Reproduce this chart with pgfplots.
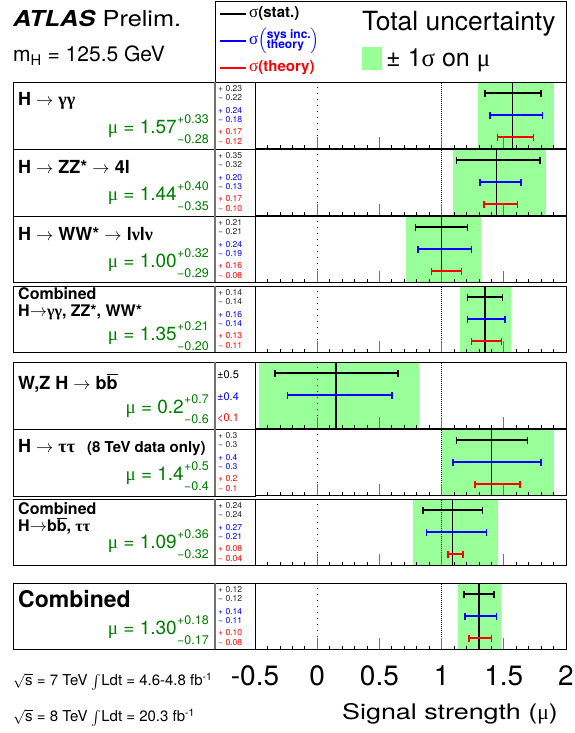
\documentclass[border=0pt]{standalone}
\usepackage{fontspec}
\setmainfont{TeX Gyre Heros}
\newfontfamily\wide[FakeStretch=1.25]{TeX Gyre Heros}
\newfontfamily\wider[FakeStretch=1.15]{TeX Gyre Heros}
\newfontfamily\grk{Liberation Serif}
\usepackage{amsmath}
\usepackage{pgfplots}
\pgfplotsset{compat=1.18}

\definecolor{band}{RGB}{153,255,153}
\definecolor{mugreen}{RGB}{0,125,0}
\definecolor{sysblue}{RGB}{0,0,255}
\definecolor{thred}{RGB}{255,0,0}
\newcommand\fs[1]{\fontsize{#1}{#1}\selectfont}

\pgfplotsset{
  panel/.style={
    anchor=north west, width=311pt, height=66.5pt, scale only axis,
    xmin=-0.5, xmax=2, ymin=0, ymax=1,
    xtick={-0.5,0,0.5,1,1.5,2}, minor x tick num=4, ytick=\empty,
    xticklabels={}, xtick pos=bottom, tick align=inside,
    major tick length=11pt, minor tick length=3pt,
    major tick style={black!55, line width=1pt},
    minor tick style={black, line width=0.7pt},
    axis line style={line width=0.9pt},
    axis on top, clip=false,
  },
  bar/.style={mark=none, line width=1.7pt, error bars/.cd, x dir=both, x explicit, error mark=|,
    error bar style={draw=#1, line width=1.7pt},
    error mark options={draw=#1, mark size=3.5pt, line width=1.5pt}},
  zero/.style={black, line width=0.9pt, dash pattern=on 1pt off 5pt},
  one/.style={black, line width=1.2pt, dash pattern=on 1pt off 1pt},
  muline/.style={black, line width=1.3pt},
}

% left box + divider
\newcommand\lbox[2]{\draw[line width=0.9pt] (13,#1) rectangle (255,#2);
  \draw[black!55, line width=1.3pt] (215,#1) -- (215,#2);}
% small number column
\newcommand\nums[7]{%
  \node[anchor=west, inner sep=0pt, font=\fs{8.5}, text=black!85] at (218,#1+6.7) {+ #2};
  \node[anchor=west, inner sep=0pt, font=\fs{8.5}, text=black!85] at (218,#1+16) {− #3};
  \node[anchor=west, inner sep=0pt, font=\fs{8.5}, text=sysblue] at (218,#1+28.7) {+ #4};
  \node[anchor=west, inner sep=0pt, font=\fs{8.5}, text=sysblue] at (218,#1+38) {− #5};
  \node[anchor=west, inner sep=0pt, font=\fs{8.5}, text=thred] at (218,#1+50) {+ #6};
  \node[anchor=west, inner sep=0pt, font=\fs{8.5}, text=thred] at (218,#1+59.7) {− #7};}
% mu = value ^sup _sub
\newcommand\muv[5]{%
  \node[anchor=base east, inner sep=0pt, font=\fs{19}, text=mugreen] at (#2,#1+52) {{\grk μ} = #3};
  \node[anchor=base east, inner sep=0pt, font=\fs{12.5}, text=mugreen] at (209,#1+42) {#4};
  \node[anchor=base east, inner sep=0pt, font=\fs{12.5}, text=mugreen] at (209,#1+62) {#5};}

\begin{document}
\begin{tikzpicture}
\path[use as bounding box] (0,0) rectangle (574pt,733pt);

% H -> gamma gamma
\begin{axis}[panel, at={(255pt,651pt)}]
\addplot[fill=band, draw=none] coordinates {(1.29,0) (1.29,1) (1.90,1) (1.90,0)} -- cycle;
\addplot[zero] coordinates {(0,0) (0,1)};
\addplot[one] coordinates {(1,0) (1,1)};
\addplot[muline] coordinates {(1.57,0) (1.57,1)};
\addplot[bar=black] coordinates {(1.57,0.83) += (0.23,0) -= (0.22,0)};
\addplot[bar=sysblue] coordinates {(1.57,0.5) += (0.24,0) -= (0.18,0)};
\addplot[bar=thred] coordinates {(1.57,0.17) += (0.17,0) -= (0.12,0)};
\end{axis}

% H -> ZZ*
\begin{axis}[panel, at={(255pt,584pt)}]
\addplot[fill=band, draw=none] coordinates {(1.09,0) (1.09,1) (1.84,1) (1.84,0)} -- cycle;
\addplot[zero] coordinates {(0,0) (0,1)};
\addplot[one] coordinates {(1,0) (1,1)};
\addplot[muline] coordinates {(1.44,0) (1.44,1)};
\addplot[bar=black] coordinates {(1.44,0.83) += (0.35,0) -= (0.32,0)};
\addplot[bar=sysblue] coordinates {(1.44,0.5) += (0.20,0) -= (0.13,0)};
\addplot[bar=thred] coordinates {(1.44,0.17) += (0.17,0) -= (0.10,0)};
\end{axis}

% H -> WW*
\begin{axis}[panel, at={(255pt,517pt)}]
\addplot[fill=band, draw=none] coordinates {(0.71,0) (0.71,1) (1.32,1) (1.32,0)} -- cycle;
\addplot[zero] coordinates {(0,0) (0,1)};
\addplot[one] coordinates {(1,0) (1,1)};
\addplot[muline] coordinates {(1.00,0) (1.00,1)};
\addplot[bar=black] coordinates {(1.00,0.83) += (0.21,0) -= (0.21,0)};
\addplot[bar=sysblue] coordinates {(1.00,0.5) += (0.24,0) -= (0.19,0)};
\addplot[bar=thred] coordinates {(1.00,0.17) += (0.16,0) -= (0.08,0)};
\end{axis}

% combined bosonic
\begin{axis}[panel, at={(255pt,447pt)}]
\addplot[fill=band, draw=none] coordinates {(1.15,0) (1.15,1) (1.56,1) (1.56,0)} -- cycle;
\addplot[zero] coordinates {(0,0) (0,1)};
\addplot[one] coordinates {(1,0) (1,1)};
\addplot[muline] coordinates {(1.35,0) (1.35,1)};
\addplot[bar=black] coordinates {(1.35,0.83) += (0.14,0) -= (0.14,0)};
\addplot[bar=sysblue] coordinates {(1.35,0.5) += (0.16,0) -= (0.14,0)};
\addplot[bar=thred] coordinates {(1.35,0.17) += (0.13,0) -= (0.11,0)};
\end{axis}

% VH -> bb
\begin{axis}[panel, at={(255pt,371pt)}]
\addplot[fill=band, draw=none] coordinates {(-0.47,0) (-0.47,1) (0.82,1) (0.82,0)} -- cycle;
\addplot[zero] coordinates {(0,0) (0,1)};
\addplot[one] coordinates {(1,0) (1,1)};
\addplot[muline] coordinates {(0.15,0) (0.15,1)};
\addplot[bar=black] coordinates {(0.15,0.83) += (0.50,0) -= (0.49,0)};
\addplot[bar=sysblue] coordinates {(0.15,0.5) += (0.45,0) -= (0.39,0)};
\end{axis}

% H -> tautau
\begin{axis}[panel, at={(255pt,304pt)}]
\addplot[fill=band, draw=none] coordinates {(1.0,0) (1.0,1) (1.9,1) (1.9,0)} -- cycle;
\addplot[zero] coordinates {(0,0) (0,1)};
\addplot[one] coordinates {(1,0) (1,1)};
\addplot[muline] coordinates {(1.4,0) (1.4,1)};
\addplot[bar=black] coordinates {(1.4,0.83) += (0.29,0) -= (0.28,0)};
\addplot[bar=sysblue] coordinates {(1.4,0.5) += (0.40,0) -= (0.31,0)};
\addplot[bar=thred] coordinates {(1.4,0.17) += (0.23,0) -= (0.13,0)};
\end{axis}

% combined fermionic
\begin{axis}[panel, at={(255pt,234pt)}]
\addplot[fill=band, draw=none] coordinates {(0.77,0) (0.77,1) (1.45,1) (1.45,0)} -- cycle;
\addplot[zero] coordinates {(0,0) (0,1)};
\addplot[one] coordinates {(1,0) (1,1)};
\addplot[muline] coordinates {(1.09,0) (1.09,1)};
\addplot[bar=black] coordinates {(1.09,0.83) += (0.24,0) -= (0.24,0)};
\addplot[bar=sysblue] coordinates {(1.09,0.5) += (0.27,0) -= (0.21,0)};
\addplot[bar=thred] coordinates {(1.09,0.17) += (0.08,0) -= (0.04,0)};
\end{axis}

% combined
\begin{axis}[panel, at={(255pt,150pt)},
  xticklabels={-0.5,0,0.5,1,1.5,2},
  xticklabel style={font=\fs{28}, inner sep=0pt, yshift=-16pt}]
\addplot[fill=band, draw=none] coordinates {(1.13,0) (1.13,1) (1.48,1) (1.48,0)} -- cycle;
\addplot[zero] coordinates {(0,0) (0,1)};
\addplot[one] coordinates {(1,0) (1,1)};
\addplot[muline] coordinates {(1.30,0) (1.30,1)};
\addplot[bar=black] coordinates {(1.30,0.83) += (0.12,0) -= (0.12,0)};
\addplot[bar=sysblue] coordinates {(1.30,0.5) += (0.14,0) -= (0.11,0)};
\addplot[bar=thred] coordinates {(1.30,0.17) += (0.10,0) -= (0.08,0)};
\end{axis}

\begin{scope}[x=1pt, y=-1pt, shift={(0pt,733pt)}]
% header
\node[anchor=base west, inner sep=0pt, font=\wider\fs{22}] at (13,27) {\textbf{\textit{ATLAS}} Prelim.};
\node[anchor=base west, inner sep=0pt, font=\fs{21}] at (13,62) {m\textsubscript{H} = 125.5 GeV};
\draw[line width=0.9pt] (215,1) rectangle (566,82);
\draw[black, line width=1.3pt] (220,14) -- (246,14);
\draw[sysblue, line width=1.3pt] (220,41) -- (246,41);
\draw[thred, line width=1.3pt] (220,68) -- (246,68);
\node[anchor=west, inner sep=0pt, font=\fs{15}] at (249,14) {{\fs{17}\grk σ}\textbf{(stat.)}};
\node[anchor=west, inner sep=0pt, font=\fs{15}, text=sysblue] at (249,41)
  {{\fs{17}\grk σ}$\boldmath\left(\vcenter{\hbox{\fs{12}\bfseries\begin{tabular}{@{}l@{}}sys inc.\\[-3pt]theory\end{tabular}}}\right)$};
\node[anchor=west, inner sep=0pt, font=\fs{15}, text=thred] at (249,68) {{\fs{17}\grk σ}\textbf{(theory)}};
\node[anchor=base west, inner sep=0pt, font=\fs{26.4}] at (362,31) {Total uncertainty};
\fill[band] (362,47) rectangle (382,70);
\node[anchor=base west, inner sep=0pt, font=\fs{25}] at (386,67) {± 1{\grk σ} on {\grk μ}};

% panel boxes
\lbox{82}{149}\lbox{149}{216}\lbox{216}{282}\lbox{286}{352}
\lbox{362}{429}\lbox{429}{496}\lbox{499}{565}\lbox{583}{649}

% titles
\node[anchor=base west, inner sep=0pt, font=\fs{18}\bfseries] at (18,106) {H $\rightarrow$ {\grk γγ}};
\node[anchor=base west, inner sep=0pt, font=\fs{18}\bfseries] at (18,174) {H $\rightarrow$ ZZ* $\rightarrow$ 4l};
\node[anchor=base west, inner sep=0pt, font=\fs{18}\bfseries] at (18,241) {H $\rightarrow$ WW* $\rightarrow$ l{\grk ν}l{\grk ν}};
\node[anchor=base west, inner sep=0pt, font=\fs{16}\bfseries] at (18,300) {Combined};
\node[anchor=base west, inner sep=0pt, font=\fs{16}\bfseries] at (18,317) {H$\rightarrow${\grk γγ}, ZZ*, WW*};
\node[anchor=base west, inner sep=0pt, font=\fs{18}\bfseries] at (18,390) {W,Z H $\rightarrow$ b$\overline{\textbf{b}}$};
\node[anchor=base west, inner sep=0pt, font=\fs{18}\bfseries] at (18,453) {H $\rightarrow$ {\grk ττ}};
\node[anchor=base west, inner sep=0pt, font=\fs{15}\bfseries] at (87,453) {(8 TeV data only)};
\node[anchor=base west, inner sep=0pt, font=\fs{16}\bfseries] at (18,515) {Combined};
\node[anchor=base west, inner sep=0pt, font=\fs{16}\bfseries] at (18,532) {H$\rightarrow$b$\overline{\textbf{b}}$, {\grk ττ}};
\node[anchor=base west, inner sep=0pt, font=\fs{23}\bfseries] at (18,608) {Combined};

% mu values
\muv{82}{177}{1.57}{+0.33}{−0.28}
\muv{149}{177}{1.44}{+0.40}{−0.35}
\muv{216}{177}{1.00}{+0.32}{−0.29}
\muv{289}{177}{1.35}{+0.21}{−0.20}
\muv{362}{184}{0.2}{+0.7}{−0.6}
\muv{429}{184}{1.4}{+0.5}{−0.4}
\muv{497}{177}{1.09}{+0.36}{−0.32}
\muv{583}{177}{1.30}{+0.18}{−0.17}

% number columns
\nums{82}{0.23}{0.22}{0.24}{0.18}{0.17}{0.12}
\nums{149}{0.35}{0.32}{0.20}{0.13}{0.17}{0.10}
\nums{216}{0.21}{0.21}{0.24}{0.19}{0.16}{0.08}
\nums{286}{0.14}{0.14}{0.16}{0.14}{0.13}{0.11}
\node[anchor=west, inner sep=0pt, font=\fs{11}] at (217,375) {±0.5};
\node[anchor=west, inner sep=0pt, font=\fs{11}, text=sysblue] at (217,397) {±0.4};
\node[anchor=west, inner sep=0pt, font=\fs{11}, text=thred] at (217,418) {<0.1};
\nums{429}{0.3}{0.3}{0.4}{0.3}{0.2}{0.1}
\nums{499}{0.24}{0.24}{0.27}{0.21}{0.08}{0.04}
\nums{583}{0.12}{0.12}{0.14}{0.11}{0.10}{0.08}

% axis title and footnotes
\node[anchor=base east, inner sep=0pt, font=\wide\fs{21.5}] at (558,720) {Signal strength ({\grk μ})};
\node[anchor=base west, inner sep=0pt, font=\fs{15}] at (13,686) {$\sqrt{\text{s}}$ = 7 TeV $\int$Ldt = 4.6-4.8 fb\textsuperscript{-1}};
\node[anchor=base west, inner sep=0pt, font=\fs{15}] at (13,722) {$\sqrt{\text{s}}$ = 8 TeV $\int$Ldt = 20.3 fb\textsuperscript{-1}};
\end{scope}
\end{tikzpicture}
\end{document}
